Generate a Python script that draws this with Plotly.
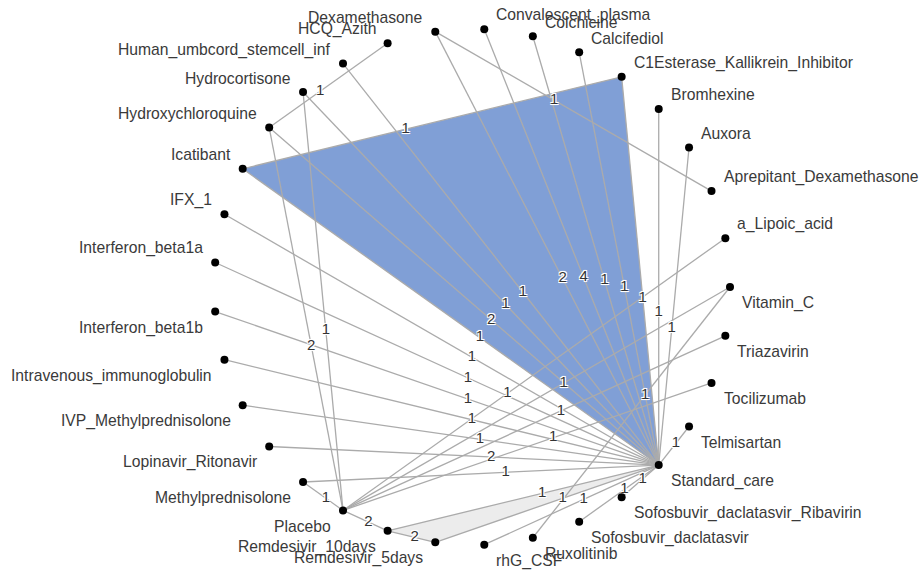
import numpy as np
import plotly.graph_objects as go

# Treatments in network order (placed counter-clockwise around a circle)
treatments = [
    "a_Lipoic_acid", "Aprepitant_Dexamethasone", "Auxora", "Bromhexine",
    "C1Esterase_Kallikrein_Inhibitor", "Calcifediol", "Colchicine", "Convalescent_plasma",
    "Dexamethasone", "HCQ_Azith", "Human_umbcord_stemcell_inf", "Hydrocortisone",
    "Hydroxychloroquine", "Icatibant", "IFX_1", "Interferon_beta1a", "Interferon_beta1b",
    "Intravenous_immunoglobulin", "IVP_Methylprednisolone", "Lopinavir_Ritonavir",
    "Methylprednisolone", "Placebo", "Remdesivir_10days", "Remdesivir_5days", "rhG_CSF",
    "Ruxolitinib", "Sofosbuvir_daclatasvir", "Sofosbuvir_daclatasvir_Ribavirin",
    "Standard_care", "Telmisartan", "Tocilizumab", "Triazavirin", "Vitamin_C",
]

# Direct comparisons: first treatment, second treatment, number of studies
treat1 = [
    "Aprepitant_Dexamethasone", "Auxora", "Bromhexine", "C1Esterase_Kallikrein_Inhibitor",
    "C1Esterase_Kallikrein_Inhibitor", "Calcifediol", "Colchicine", "Convalescent_plasma",
    "Dexamethasone", "HCQ_Azith", "Human_umbcord_stemcell_inf", "Hydrocortisone",
    "Hydrocortisone", "Hydroxychloroquine", "Hydroxychloroquine", "Icatibant", "IFX_1",
    "Interferon_beta1a", "Interferon_beta1b", "Intravenous_immunoglobulin",
    "IVP_Methylprednisolone", "Lopinavir_Ritonavir", "Methylprednisolone",
    "Methylprednisolone", "Placebo", "Placebo", "Placebo", "Placebo", "a_Lipoic_acid",
    "Remdesivir_10days", "Remdesivir_10days", "Remdesivir_5days", "rhG_CSF", "Ruxolitinib",
    "Sofosbuvir_daclatasvir", "Sofosbuvir_daclatasvir_Ribavirin", "Standard_care",
]
treat2 = [
    "Dexamethasone", "Standard_care", "Standard_care", "Icatibant",
    "Standard_care", "Standard_care", "Standard_care", "Standard_care",
    "Standard_care", "Hydroxychloroquine", "Standard_care", "Placebo",
    "Standard_care", "Placebo", "Standard_care", "Standard_care", "Standard_care",
    "Standard_care", "Standard_care", "Standard_care",
    "Standard_care", "Standard_care", "Placebo",
    "Standard_care", "Remdesivir_10days", "Tocilizumab", "Triazavirin", "Vitamin_C", "Placebo",
    "Remdesivir_5days", "Standard_care", "Standard_care", "Standard_care", "Vitamin_C",
    "Standard_care", "Standard_care", "Telmisartan",
]
n_studies = [
    1, 1, 1, 1,
    1, 1, 1, 4,
    2, 1, 1, 1,
    1, 2, 2, 1, 1,
    1, 1, 1,
    1, 2, 1,
    1, 2, 1, 1, 1, 1,
    2, 1, 1, 1, 1,
    1, 1, 1,
]

# Multi-arm studies shaded as polygons
multiarm_sets = [
    ["Icatibant", "C1Esterase_Kallikrein_Inhibitor", "Standard_care"],
    ["Remdesivir_10days", "Remdesivir_5days", "Standard_care"],
]
multiarm_colors = ["#809fd6", "#ececec"]

# Circular layout
n = len(treatments)
theta = 2 * np.pi * (np.arange(n) + 1) / n
px = np.cos(theta)
py = np.sin(theta)
pos = {t: (px[i], py[i]) for i, t in enumerate(treatments)}

fig = go.Figure()

for members, col in zip(multiarm_sets, multiarm_colors):
    xs = [pos[m][0] for m in members] + [pos[members[0]][0]]
    ys = [pos[m][1] for m in members] + [pos[members[0]][1]]
    fig.add_trace(go.Scatter(x=xs, y=ys, mode="lines", fill="toself", fillcolor=col,
                             line=dict(width=0, color=col), hoverinfo="skip",
                             showlegend=False))

ex, ey = [], []
for a, b in zip(treat1, treat2):
    ex += [pos[a][0], pos[b][0], None]
    ey += [pos[a][1], pos[b][1], None]
fig.add_trace(go.Scatter(x=ex, y=ey, mode="lines",
                         line=dict(color="#ababab", width=1.3),
                         hoverinfo="skip", showlegend=False))

# Number of studies along each edge
frac = 0.57
lx = [pos[a][0] + frac * (pos[b][0] - pos[a][0]) for a, b in zip(treat1, treat2)]
ly = [pos[a][1] + frac * (pos[b][1] - pos[a][1]) for a, b in zip(treat1, treat2)]
halo = ("white 1px 1px 0px, white -1px -1px 0px, white 1px -1px 0px, "
        "white -1px 1px 0px, white 0px 1px 1px, white 0px -1px 1px")
fig.add_trace(go.Scatter(x=lx, y=ly, mode="text", text=[str(v) for v in n_studies],
                         textfont=dict(family="Liberation Sans, Arial", size=15,
                                       color="#333333", shadow=halo),
                         hoverinfo="skip", showlegend=False))

fig.add_trace(go.Scatter(x=px, y=py, mode="markers",
                         marker=dict(color="black", size=8),
                         hovertext=treatments, hoverinfo="text", showlegend=False))

for i, t in enumerate(treatments):
    right = px[i] > 1e-9
    upper = py[i] > 1e-9
    fig.add_annotation(x=px[i], y=py[i], text=t, showarrow=False,
                       xanchor="left" if right else "right", yanchor="middle",
                       xshift=10 if right else -10, yshift=14 if upper else -16,
                       font=dict(family="Liberation Sans, Arial", size=15.7, color="#3a3a3a"))

r = 258.0
cx, cy = 472.0, 287.0
W, H = 919, 571
fig.update_xaxes(range=[-cx / r, (W - cx) / r], visible=False)
fig.update_yaxes(range=[-(H - cy) / r, cy / r], visible=False)
fig.update_layout(width=W, height=H, margin=dict(l=0, r=0, t=0, b=0),
                  plot_bgcolor="white", paper_bgcolor="white")

fig.write_html("out.html")
